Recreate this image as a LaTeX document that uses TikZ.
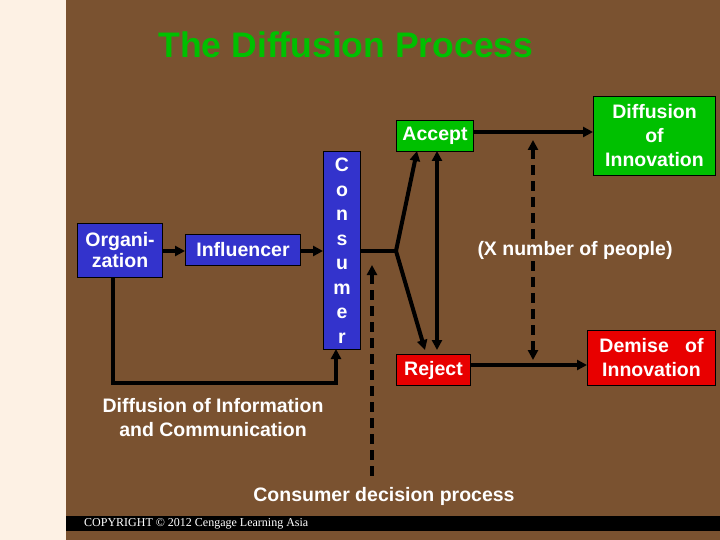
\documentclass[tikz,border=0pt]{standalone}
\usepackage{fontspec}
\setmainfont{Liberation Sans}
\newfontfamily\serifcr{Liberation Serif}
\usetikzlibrary{arrows.meta}
\definecolor{brown}{HTML}{7A5230}
\definecolor{cream}{HTML}{FDF1E4}
\definecolor{gbox}{HTML}{00C000}
\definecolor{rbox}{HTML}{E80000}
\definecolor{bbox}{HTML}{3333CC}
\begin{document}
\begin{tikzpicture}[x=1pt,y=-1pt,
  box/.style={draw=black,line width=1pt,text=white,font=\fontsize{19.5}{21}\selectfont\bfseries,align=center,inner sep=0pt,anchor=north west},
  lbl/.style={text=white,font=\fontsize{19.5}{24}\selectfont\bfseries,align=center},
  con/.style={line width=4pt,-{Triangle[length=10pt,width=10pt]}},
  dashln/.style={line width=4pt,dash pattern=on 10pt off 6pt}]
\useasboundingbox (0,0) rectangle (720,540);
\fill[cream] (0,0) rectangle (66,540);
\fill[brown] (66,0) rectangle (720,540);
\fill[black] (66,516) rectangle (720,531);
\node[anchor=west,text=white,font=\serifcr\fontsize{12}{12}\selectfont,inner sep=0pt] (copy) at (84,523.5) {COPYRIGHT © 2012 Cengage Learning Asia};
\node[text=gbox,font=\fontsize{35.5}{38}\selectfont\bfseries] (title) at (346,45) {The Diffusion Process};
\coordinate (fork) at (396,251);
\coordinate (dtop) at (372,265);
\coordinate (dbot) at (372,480);
\draw[con] (113,277) -- (113,383) -- (336,383) -- (336,349);
\draw[dashln,{Triangle[length=10pt,width=10pt]}-] (dtop) -- (dbot);
\draw[dashln,{Triangle[length=10pt,width=10pt]}-{Triangle[length=10pt,width=10pt]}] (533,140) -- (533,360);
\node[box,fill=bbox,minimum width=85,minimum height=54] (org) at (77,223) {Organi-\\zation};
\node[box,fill=bbox,minimum width=115,minimum height=31] (inf) at (185,234) {Influencer};
\node[box,fill=bbox,minimum width=37,minimum height=198,font=\fontsize{19.5}{24.5}\selectfont\bfseries] (cons) at (323,151) {C\\o\\n\\s\\u\\m\\e\\r};
\node[box,fill=gbox,minimum width=77,minimum height=31] (acc) at (396,120) {Accept};
\node[box,fill=rbox,minimum width=74,minimum height=31] (rej) at (396,354) {Reject};
\node[box,fill=gbox,minimum width=122,minimum height=79,font=\fontsize{19.5}{24}\selectfont\bfseries] (dif) at (593,96) {Diffusion\\of\\Innovation};
\node[box,fill=rbox,minimum width=128,minimum height=55,font=\fontsize{19.5}{24}\selectfont\bfseries] (dem) at (587,330) {Demise~~~of\\Innovation};
\node[lbl] (info) at (213,418) {Diffusion of Information\\and Communication};
\node[lbl,fill=brown,inner sep=2pt] (xnum) at (575,250) {(X number of people)};
\node[lbl] (cdp) at (384,496) {Consumer decision process};
\draw[con] (org.east |- 0,251) -- (inf.west |- 0,251);
\draw[con] (inf.east |- 0,251) -- (cons.west |- 0,251);
\draw[line width=4pt,line join=miter] (cons.east |- 0,251) -- (fork);
\draw[con] (fork) -- (417,151);
\draw[con] (fork) -- (425,350);
\draw[line width=4pt,{Triangle[length=10pt,width=10pt]}-{Triangle[length=10pt,width=10pt]}] (437,151) -- (437,350);
\draw[con] (acc.east |- 0,132) -- (dif.west |- 0,132);
\draw[con] (rej.east |- 0,365) -- (dem.west |- 0,365);
\end{tikzpicture}
\end{document}
